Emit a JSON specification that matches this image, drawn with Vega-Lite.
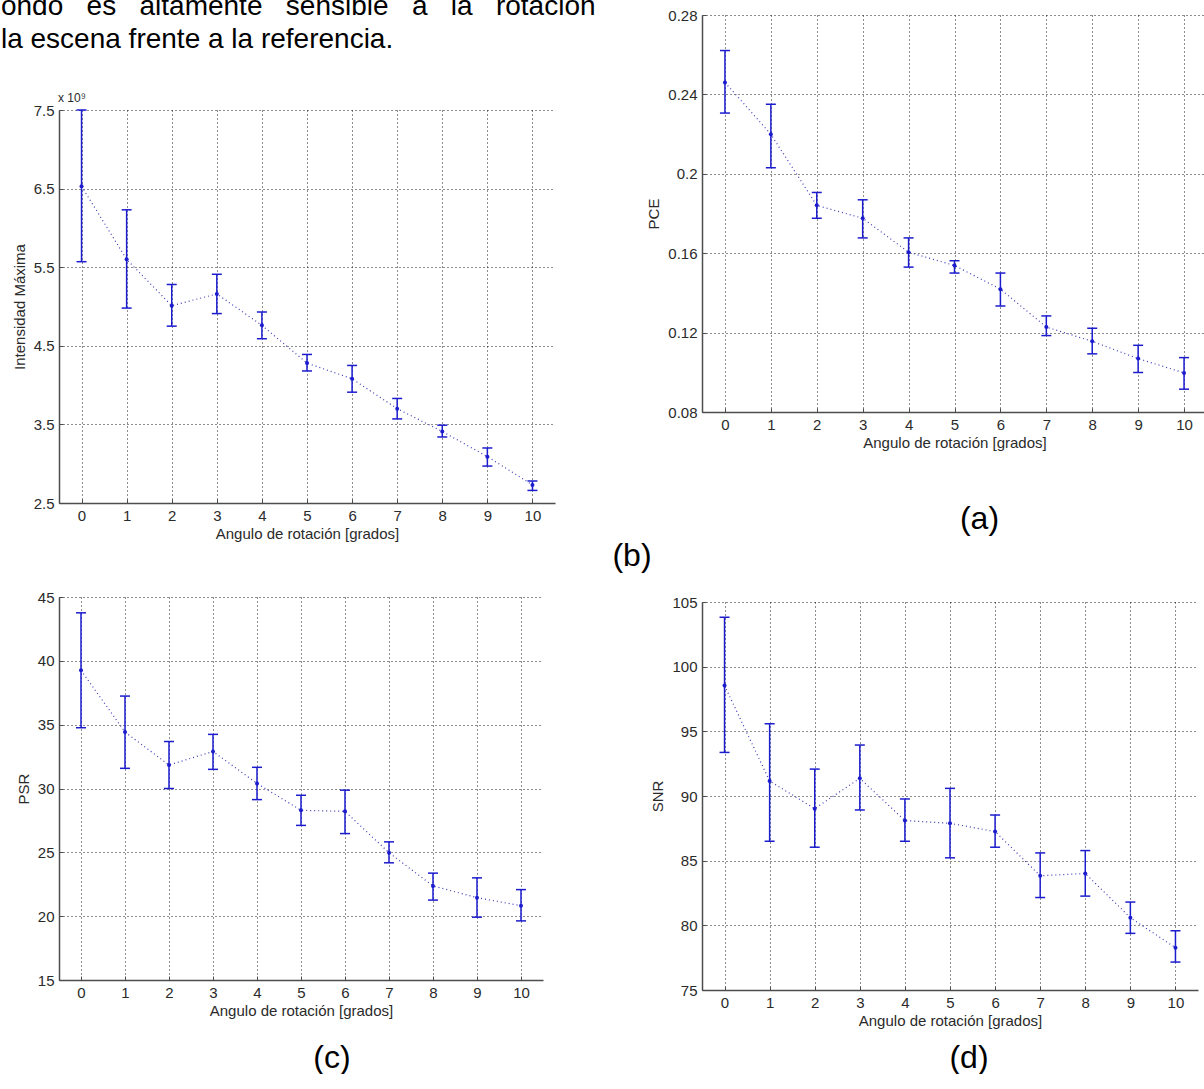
{
  "$schema": "https://vega.github.io/schema/vega-lite/v6.json",
  "background": "white",
  "padding": {"left": 0, "top": -7, "right": 0, "bottom": 0},
  "datasets": {
    "intensidad": [
      {"angulo": 0, "media": 6.53, "inf": 5.57, "sup": 7.50},
      {"angulo": 1, "media": 5.60, "inf": 4.98, "sup": 6.23},
      {"angulo": 2, "media": 5.01, "inf": 4.75, "sup": 5.28},
      {"angulo": 3, "media": 5.16, "inf": 4.91, "sup": 5.41},
      {"angulo": 4, "media": 4.76, "inf": 4.59, "sup": 4.93},
      {"angulo": 5, "media": 4.28, "inf": 4.18, "sup": 4.39},
      {"angulo": 6, "media": 4.08, "inf": 3.91, "sup": 4.25},
      {"angulo": 7, "media": 3.70, "inf": 3.57, "sup": 3.83},
      {"angulo": 8, "media": 3.41, "inf": 3.34, "sup": 3.49},
      {"angulo": 9, "media": 3.09, "inf": 2.97, "sup": 3.20},
      {"angulo": 10, "media": 2.73, "inf": 2.66, "sup": 2.78}
    ],
    "pce": [
      {"angulo": 0, "media": 0.2460, "inf": 0.2306, "sup": 0.2621},
      {"angulo": 1, "media": 0.2199, "inf": 0.2030, "sup": 0.2350},
      {"angulo": 2, "media": 0.1841, "inf": 0.1776, "sup": 0.1906},
      {"angulo": 3, "media": 0.1776, "inf": 0.1677, "sup": 0.1869},
      {"angulo": 4, "media": 0.1605, "inf": 0.1530, "sup": 0.1677},
      {"angulo": 5, "media": 0.1538, "inf": 0.1500, "sup": 0.1562},
      {"angulo": 6, "media": 0.1419, "inf": 0.1334, "sup": 0.1500},
      {"angulo": 7, "media": 0.1228, "inf": 0.1185, "sup": 0.1284},
      {"angulo": 8, "media": 0.1156, "inf": 0.1093, "sup": 0.1222},
      {"angulo": 9, "media": 0.1069, "inf": 0.0999, "sup": 0.1136},
      {"angulo": 10, "media": 0.0997, "inf": 0.0915, "sup": 0.1074}
    ],
    "psr": [
      {"angulo": 0, "media": 39.26, "inf": 34.76, "sup": 43.76},
      {"angulo": 1, "media": 34.42, "inf": 31.58, "sup": 37.24},
      {"angulo": 2, "media": 31.84, "inf": 30.00, "sup": 33.68},
      {"angulo": 3, "media": 32.90, "inf": 31.50, "sup": 34.24},
      {"angulo": 4, "media": 30.40, "inf": 29.13, "sup": 31.66},
      {"angulo": 5, "media": 28.29, "inf": 27.11, "sup": 29.47},
      {"angulo": 6, "media": 28.21, "inf": 26.47, "sup": 29.87},
      {"angulo": 7, "media": 24.97, "inf": 24.18, "sup": 25.82},
      {"angulo": 8, "media": 22.37, "inf": 21.26, "sup": 23.37},
      {"angulo": 9, "media": 21.45, "inf": 19.92, "sup": 23.00},
      {"angulo": 10, "media": 20.82, "inf": 19.63, "sup": 22.08}
    ],
    "snr": [
      {"angulo": 0, "media": 98.54, "inf": 93.37, "sup": 103.82},
      {"angulo": 1, "media": 91.16, "inf": 86.50, "sup": 95.58},
      {"angulo": 2, "media": 89.02, "inf": 86.04, "sup": 92.08},
      {"angulo": 3, "media": 91.37, "inf": 88.92, "sup": 93.94},
      {"angulo": 4, "media": 88.10, "inf": 86.50, "sup": 89.77},
      {"angulo": 5, "media": 87.89, "inf": 85.22, "sup": 90.59},
      {"angulo": 6, "media": 87.25, "inf": 86.04, "sup": 88.53},
      {"angulo": 7, "media": 83.83, "inf": 82.15, "sup": 85.60},
      {"angulo": 8, "media": 84.01, "inf": 82.26, "sup": 85.78},
      {"angulo": 9, "media": 80.59, "inf": 79.38, "sup": 81.80},
      {"angulo": 10, "media": 78.27, "inf": 77.16, "sup": 79.58}
    ]
  },
  "spacing": -6,
  "hconcat": [
    {
      "spacing": 18,
      "vconcat": [
        {
          "spacing": 38,
          "vconcat": [
            {
              "width": 496, "height": 33,
              "data": {"values": [
                {"linea": "1", "texto": "ondo \u00a0\u00a0es \u00a0\u00a0altamente \u00a0\u00a0sensible \u00a0\u00a0a \u00a0\u00a0la \u00a0\u00a0rotación"},
                {"linea": "2", "texto": "\u00a0\u00a0la escena frente a la referencia."}
              ]},
              "mark": {"type": "text", "align": "left", "baseline": "alphabetic", "fontSize": 28, "font": "Liberation Sans", "color": "#000000"},
              "encoding": {
                "x": {"datum": -0.117, "type": "quantitative", "scale": {"domain": [0, 1], "nice": false, "zero": false}, "axis": null},
                "y": {"field": "linea", "type": "ordinal", "axis": null, "scale": {"type": "point", "padding": 0}},
                "text": {"field": "texto"}
              }
            },
            {
              "width": 496, "height": 393,
              "title": {"text": "(b)", "orient": "bottom", "anchor": "middle", "frame": "group", "dx": 325, "offset": 0, "fontSize": 32, "font": "Liberation Sans", "fontWeight": "normal", "color": "#000000"},
              "layer": [
                {
                  "data": {"name": "intensidad"},
                  "mark": {"type": "line", "strokeDash": [1, 3], "strokeWidth": 1.2, "color": "#3a3ab8"},
                  "encoding": {
                    "x": {"field": "angulo", "type": "quantitative", "scale": {"domain": [-0.5, 10.5], "nice": false, "zero": false},
                      "axis": {"values": [0,1,2,3,4,5,6,7,8,9,10], "format": "d", "title": "Angulo de rotación [grados]"}},
                    "y": {"field": "media", "type": "quantitative", "title": "Intensidad Máxima", "scale": {"domain": [2.5, 7.5], "nice": false, "zero": false},
                      "axis": {"values": [2.5,3,3.5,4,4.5,5,5.5,6,6.5,7,7.5], "format": "~g"}}
                  }
                },
                {
                  "data": {"name": "intensidad"},
                  "mark": {"type": "rule", "color": "#1c1ccf", "strokeWidth": 1.5},
                  "encoding": {"x": {"field": "angulo", "type": "quantitative"}, "y": {"field": "inf", "type": "quantitative", "title": "Intensidad Máxima"}, "y2": {"field": "sup"}}
                },
                {
                  "data": {"name": "intensidad"},
                  "mark": {"type": "tick", "orient": "horizontal", "size": 10, "thickness": 1.5, "color": "#1c1ccf", "opacity": 1},
                  "encoding": {"x": {"field": "angulo", "type": "quantitative"}, "y": {"field": "inf", "type": "quantitative", "title": "Intensidad Máxima"}}
                },
                {
                  "data": {"name": "intensidad"},
                  "mark": {"type": "tick", "orient": "horizontal", "size": 10, "thickness": 1.5, "color": "#1c1ccf", "opacity": 1},
                  "encoding": {"x": {"field": "angulo", "type": "quantitative"}, "y": {"field": "sup", "type": "quantitative", "title": "Intensidad Máxima"}}
                },
                {
                  "data": {"name": "intensidad"},
                  "mark": {"type": "point", "filled": true, "size": 16, "color": "#1c1ccf", "opacity": 1},
                  "encoding": {"x": {"field": "angulo", "type": "quantitative"}, "y": {"field": "media", "type": "quantitative", "title": "Intensidad Máxima"}}
                },
                {
                  "data": {"values": [{"nota": "x 10⁹"}]},
                  "mark": {"type": "text", "align": "left", "baseline": "bottom", "dx": -1, "dy": -5, "fontSize": 12, "font": "Liberation Sans", "color": "#2a2a2a"},
                  "encoding": {"x": {"datum": -0.5, "type": "quantitative"}, "y": {"datum": 7.5, "type": "quantitative"}, "text": {"field": "nota"}}
                }
              ]
            }
          ]
        },
        {
          "width": 484, "height": 383,
          "title": {"text": "(c)", "orient": "bottom", "anchor": "middle", "frame": "group", "dx": 31, "offset": 25, "fontSize": 32, "font": "Liberation Sans", "fontWeight": "normal", "color": "#000000"},
          "layer": [
            {
              "data": {"name": "psr"},
              "mark": {"type": "line", "strokeDash": [1, 3], "strokeWidth": 1.2, "color": "#3a3ab8"},
              "encoding": {
                "x": {"field": "angulo", "type": "quantitative", "scale": {"domain": [-0.5, 10.5], "nice": false, "zero": false},
                  "axis": {"values": [0,1,2,3,4,5,6,7,8,9,10], "format": "d", "title": "Angulo de rotación [grados]"}},
                "y": {"field": "media", "type": "quantitative", "title": "PSR", "scale": {"domain": [15, 45], "nice": false, "zero": false},
                  "axis": {"values": [15,20,25,30,35,40,45], "format": "~g"}}
              }
            },
            {
              "data": {"name": "psr"},
              "mark": {"type": "rule", "color": "#1c1ccf", "strokeWidth": 1.5},
              "encoding": {"x": {"field": "angulo", "type": "quantitative"}, "y": {"field": "inf", "type": "quantitative", "title": "PSR"}, "y2": {"field": "sup"}}
            },
            {
              "data": {"name": "psr"},
              "mark": {"type": "tick", "orient": "horizontal", "size": 10, "thickness": 1.5, "color": "#1c1ccf", "opacity": 1},
              "encoding": {"x": {"field": "angulo", "type": "quantitative"}, "y": {"field": "inf", "type": "quantitative", "title": "PSR"}}
            },
            {
              "data": {"name": "psr"},
              "mark": {"type": "tick", "orient": "horizontal", "size": 10, "thickness": 1.5, "color": "#1c1ccf", "opacity": 1},
              "encoding": {"x": {"field": "angulo", "type": "quantitative"}, "y": {"field": "sup", "type": "quantitative", "title": "PSR"}}
            },
            {
              "data": {"name": "psr"},
              "mark": {"type": "point", "filled": true, "size": 16, "color": "#1c1ccf", "opacity": 1},
              "encoding": {"x": {"field": "angulo", "type": "quantitative"}, "y": {"field": "media", "type": "quantitative", "title": "PSR"}}
            }
          ]
        }
      ]
    },
    {
      "title": {"text": " ", "fontSize": 10, "offset": 5, "anchor": "start"},
      "spacing": 60,
      "vconcat": [
        {
          "width": 505, "height": 397,
          "title": {"text": "(a)", "orient": "bottom", "anchor": "middle", "frame": "group", "dx": 25, "offset": 54, "fontSize": 32, "font": "Liberation Sans", "fontWeight": "normal", "color": "#000000"},
          "layer": [
            {
              "data": {"name": "pce"},
              "mark": {"type": "line", "strokeDash": [1, 3], "strokeWidth": 1.2, "color": "#3a3ab8"},
              "encoding": {
                "x": {"field": "angulo", "type": "quantitative", "scale": {"domain": [-0.5, 10.5], "nice": false, "zero": false},
                  "axis": {"values": [0,1,2,3,4,5,6,7,8,9,10], "format": "d", "title": "Angulo de rotación [grados]"}},
                "y": {"field": "media", "type": "quantitative", "title": "PCE", "scale": {"domain": [0.08, 0.28], "nice": false, "zero": false},
                  "axis": {"values": [0.08,0.1,0.12,0.14,0.16,0.18,0.2,0.22,0.24,0.26,0.28], "format": "~g"}}
              }
            },
            {
              "data": {"name": "pce"},
              "mark": {"type": "rule", "color": "#1c1ccf", "strokeWidth": 1.5},
              "encoding": {"x": {"field": "angulo", "type": "quantitative"}, "y": {"field": "inf", "type": "quantitative", "title": "PCE"}, "y2": {"field": "sup"}}
            },
            {
              "data": {"name": "pce"},
              "mark": {"type": "tick", "orient": "horizontal", "size": 10, "thickness": 1.5, "color": "#1c1ccf", "opacity": 1},
              "encoding": {"x": {"field": "angulo", "type": "quantitative"}, "y": {"field": "inf", "type": "quantitative", "title": "PCE"}}
            },
            {
              "data": {"name": "pce"},
              "mark": {"type": "tick", "orient": "horizontal", "size": 10, "thickness": 1.5, "color": "#1c1ccf", "opacity": 1},
              "encoding": {"x": {"field": "angulo", "type": "quantitative"}, "y": {"field": "sup", "type": "quantitative", "title": "PCE"}}
            },
            {
              "data": {"name": "pce"},
              "mark": {"type": "point", "filled": true, "size": 16, "color": "#1c1ccf", "opacity": 1},
              "encoding": {"x": {"field": "angulo", "type": "quantitative"}, "y": {"field": "media", "type": "quantitative", "title": "PCE"}}
            }
          ]
        },
        {
          "width": 496, "height": 388,
          "title": {"text": "(d)", "orient": "bottom", "anchor": "middle", "frame": "group", "dx": 19, "offset": 15, "fontSize": 32, "font": "Liberation Sans", "fontWeight": "normal", "color": "#000000"},
          "layer": [
            {
              "data": {"name": "snr"},
              "mark": {"type": "line", "strokeDash": [1, 3], "strokeWidth": 1.2, "color": "#3a3ab8"},
              "encoding": {
                "x": {"field": "angulo", "type": "quantitative", "scale": {"domain": [-0.5, 10.5], "nice": false, "zero": false},
                  "axis": {"values": [0,1,2,3,4,5,6,7,8,9,10], "format": "d", "title": "Angulo de rotación [grados]"}},
                "y": {"field": "media", "type": "quantitative", "title": "SNR", "scale": {"domain": [75, 105], "nice": false, "zero": false},
                  "axis": {"values": [75,80,85,90,95,100,105], "format": "~g"}}
              }
            },
            {
              "data": {"name": "snr"},
              "mark": {"type": "rule", "color": "#1c1ccf", "strokeWidth": 1.5},
              "encoding": {"x": {"field": "angulo", "type": "quantitative"}, "y": {"field": "inf", "type": "quantitative", "title": "SNR"}, "y2": {"field": "sup"}}
            },
            {
              "data": {"name": "snr"},
              "mark": {"type": "tick", "orient": "horizontal", "size": 10, "thickness": 1.5, "color": "#1c1ccf", "opacity": 1},
              "encoding": {"x": {"field": "angulo", "type": "quantitative"}, "y": {"field": "inf", "type": "quantitative", "title": "SNR"}}
            },
            {
              "data": {"name": "snr"},
              "mark": {"type": "tick", "orient": "horizontal", "size": 10, "thickness": 1.5, "color": "#1c1ccf", "opacity": 1},
              "encoding": {"x": {"field": "angulo", "type": "quantitative"}, "y": {"field": "sup", "type": "quantitative", "title": "SNR"}}
            },
            {
              "data": {"name": "snr"},
              "mark": {"type": "point", "filled": true, "size": 16, "color": "#1c1ccf", "opacity": 1},
              "encoding": {"x": {"field": "angulo", "type": "quantitative"}, "y": {"field": "media", "type": "quantitative", "title": "SNR"}}
            }
          ]
        }
      ]
    }
  ],
  "config": {
    "font": "Liberation Sans",
    "view": {"stroke": null},
    "title": {"font": "Liberation Sans", "fontWeight": "normal"},
    "axis": {
      "labelFont": "Liberation Sans", "labelFontSize": 15, "labelColor": "#2a2a2a", "labelOverlap": false,
      "titleFont": "Liberation Sans", "titleFontSize": 15, "titleFontWeight": "normal", "titleColor": "#2a2a2a",
      "domainColor": "#4d4d4d", "domainWidth": 1.5,
      "ticks": true, "tickColor": "#4d4d4d", "tickSize": -4, "tickWidth": 1,
      "labelPadding": 9, "titlePadding": 6,
      "grid": true, "gridColor": "#1a1a1a", "gridDash": [1, 3], "gridWidth": 1, "gridOpacity": 1
    },
    "axisX": {"titlePadding": 3}
  }
}
